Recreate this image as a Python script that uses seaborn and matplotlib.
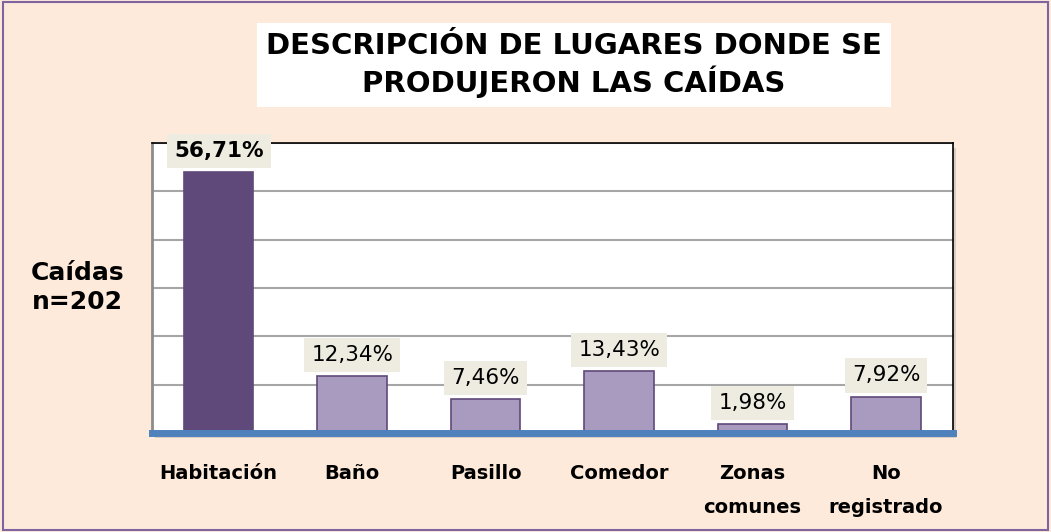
import matplotlib
matplotlib.use("Agg")
import matplotlib.pyplot as plt
import seaborn as sns

categories = ["Habitación", "Baño", "Pasillo", "Comedor", "Zonas\ncomunes", "No\nregistrado"]
values = [56.71, 12.34, 7.46, 13.43, 1.98, 7.92]
labels = ["56,71%", "12,34%", "7,46%", "13,43%", "1,98%", "7,92%"]

sns.set_theme(style="white")
plt.rcParams["font.family"] = ["DejaVu Sans"]
plt.rcParams["text.color"] = "black"

bg = "#FDEADA"
fig = plt.figure(figsize=(10.51, 5.32), dpi=100, facecolor=bg)

# soft shadow behind the plot area
pos = [0.1446, 0.186, 0.762, 0.545]
shadow = plt.Rectangle((pos[0] + 0.003, pos[1] - 0.01), pos[2], pos[3],
                       transform=fig.transFigure, fc="#D9CCC0", ec="none", zorder=-1)
fig.add_artist(shadow)

ax = fig.add_axes(pos)
ax.set_facecolor("white")

colors = ["#5F497A"] + ["#A99BC0"] * 5
sns.barplot(x=categories, y=values, hue=categories, palette=colors, legend=False,
            saturation=1, width=0.52, edgecolor="#5F497A", linewidth=1.2, ax=ax, zorder=3)

step = 10.5
ax.set_ylim(0, step * 6)
ax.set_yticks([step * i for i in range(7)])
ax.set_yticklabels([])
ax.tick_params(axis="y", length=0)
ax.yaxis.grid(True, color="#A6A6A6", linewidth=1.5, zorder=0)
ax.set_xlim(-0.5, len(categories) - 0.5)

for s in ["top", "right"]:
    ax.spines[s].set_color("black")
    ax.spines[s].set_linewidth(1.2)
ax.spines["left"].set_color("#8C8C8C")
ax.spines["left"].set_linewidth(2)
ax.spines["bottom"].set_color("#4F81BD")
ax.spines["bottom"].set_linewidth(5)
ax.spines["bottom"].set_zorder(5)

for i, (v, lab) in enumerate(zip(values, labels)):
    ax.annotate(lab, (i, v), xytext=(0, 8), textcoords="offset points",
                ha="center", va="bottom", fontsize=15.5,
                fontweight="bold" if i == 0 else "normal", color="black",
                bbox=dict(boxstyle="square,pad=0.33", fc="#EEECE1", ec="none"),
                zorder=6, annotation_clip=False)

ax.set_xticks(range(len(categories)))
ax.set_xticklabels(categories, fontsize=14, fontweight="bold", color="black",
                   va="top", linespacing=2.0)
ax.tick_params(axis="x", length=0, pad=22)
ax.set_xlabel("")
ax.set_ylabel("")

fig.text(0.546, 0.878, "DESCRIPCIÓN DE LUGARES DONDE SE\nPRODUJERON LAS CAÍDAS",
         ha="center", va="center", fontsize=21, fontweight="bold", linespacing=1.2,
         color="black",
         bbox=dict(boxstyle="square,pad=0.3", fc="white", ec="none"))

fig.text(0.074, 0.46, "Caídas\nn=202", ha="center", va="center", fontsize=18,
         fontweight="bold", linespacing=1.25, color="black")

border = plt.Rectangle((0.003, 0.004), 0.994, 0.992, transform=fig.transFigure,
                       fill=False, ec="#8064A2", lw=1.5)
fig.add_artist(border)

fig.savefig("out.png", dpi=100, facecolor=bg)
